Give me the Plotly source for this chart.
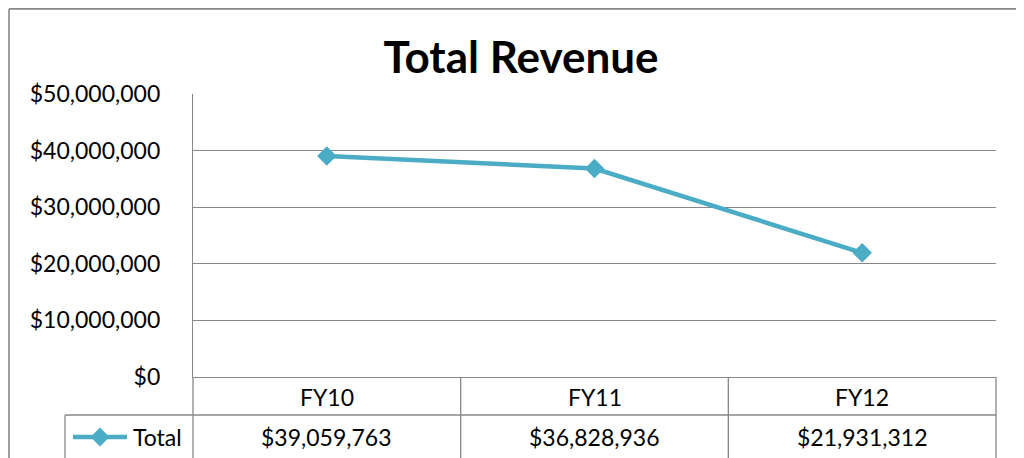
import plotly.graph_objects as go

categories = ["FY10", "FY11", "FY12"]
totals = [39059763, 36828936, 21931312]
series_name = "Total"
title_text = "Total Revenue"
y_ticks = [0, 10000000, 20000000, 30000000, 40000000, 50000000]

# page has an 8px body margin; work in screen pixels and shift
OFF = 8
W, H = 1016, 450
L, R, T, B = 193 - OFF, 28, 94 - OFF, 81
PW, PH = W - L - R, H - T - B

def px(x):
    return (x - OFF - L) / PW

def py(y):
    return (H - B - (y - OFF)) / PH

LINE = "#4BACC6"
GRID = "#878787"
FONT = "Lato"
FS = 23

fig = go.Figure()
fig.add_trace(go.Scatter(
    x=categories, y=totals, mode="lines+markers", name=series_name,
    line=dict(color=LINE, width=4.5),
    marker=dict(symbol="diamond", size=15, color=LINE),
    showlegend=False, cliponaxis=False,
))

shapes = []
def seg(x0, y0, x1, y1, w=1.3):
    shapes.append(dict(type="line", xref="paper", yref="paper",
                       x0=x0, y0=y0, x1=x1, y1=y1,
                       line=dict(color=GRID, width=w)))

# outer chart border
seg(px(9), py(8.9), px(1100), py(8.9), 1.8)
seg(px(9), py(8.9), px(9), py(600), 1.6)
# table grid
seg(px(65), py(415), 1, py(415))
seg(px(65), py(415), px(65), py(600))
seg(0, 0, 0, py(600))
seg(1, 0, 1, py(600))
for b in [0.5, 1.5]:
    shapes.append(dict(type="line", xref="x", yref="paper",
                       x0=b, x1=b, y0=0, y1=py(600),
                       line=dict(color=GRID, width=1.3)))
# legend key
ky = py(437)
shapes.append(dict(type="line", xref="paper", yref="paper",
                   x0=px(73), x1=px(127), y0=ky, y1=ky,
                   line=dict(color=LINE, width=4.5)))
cx, r = px(100), 9.5
dx, dy = r / PW, r / PH
shapes.append(dict(type="path", xref="paper", yref="paper",
                   path=f"M {cx-dx},{ky} L {cx},{ky+dy} L {cx+dx},{ky} L {cx},{ky-dy} Z",
                   fillcolor=LINE, line=dict(color=LINE, width=0)))

annotations = []
for c, v in zip(categories, totals):
    annotations.append(dict(x=c, xref="x", y=py(397), yref="paper", text=c,
                            showarrow=False, font=dict(family=FONT, size=FS, color="black"),
                            xanchor="center", yanchor="middle"))
    annotations.append(dict(x=c, xref="x", y=py(437), yref="paper", text=f"${v:,}",
                            showarrow=False, font=dict(family=FONT, size=FS, color="black"),
                            xanchor="center", yanchor="middle"))
annotations.append(dict(x=px(131), xref="paper", y=py(437), yref="paper", text=series_name,
                        showarrow=False, font=dict(family=FONT, size=FS, color="black"),
                        xanchor="left", yanchor="middle"))

fig.update_layout(
    width=W, height=H,
    margin=dict(l=L, r=R, t=T, b=B, autoexpand=False),
    paper_bgcolor="white", plot_bgcolor="white",
    title=dict(text=f"<b>{title_text}</b>", x=(521 - OFF) / W, xanchor="center",
               y=1 - (58 - OFF) / H, yanchor="middle", xref="container", yref="container",
               font=dict(family=FONT, size=44, color="black")),
    xaxis=dict(range=[-0.5, 2.5], showticklabels=False, ticks="", showgrid=False,
               showline=True, linecolor=GRID, linewidth=1.3, zeroline=False, fixedrange=True),
    yaxis=dict(range=[0, 50000000], tickvals=y_ticks, tickformat="$,.0f",
               showgrid=True, gridcolor=GRID, gridwidth=1.3, zeroline=False,
               showline=True, linecolor=GRID, linewidth=1.3, ticks="",
               ticklabelstandoff=27,
               tickfont=dict(family=FONT, size=FS, color="black"), fixedrange=True),
    shapes=shapes, annotations=annotations,
)

fig.write_html("out.html")
